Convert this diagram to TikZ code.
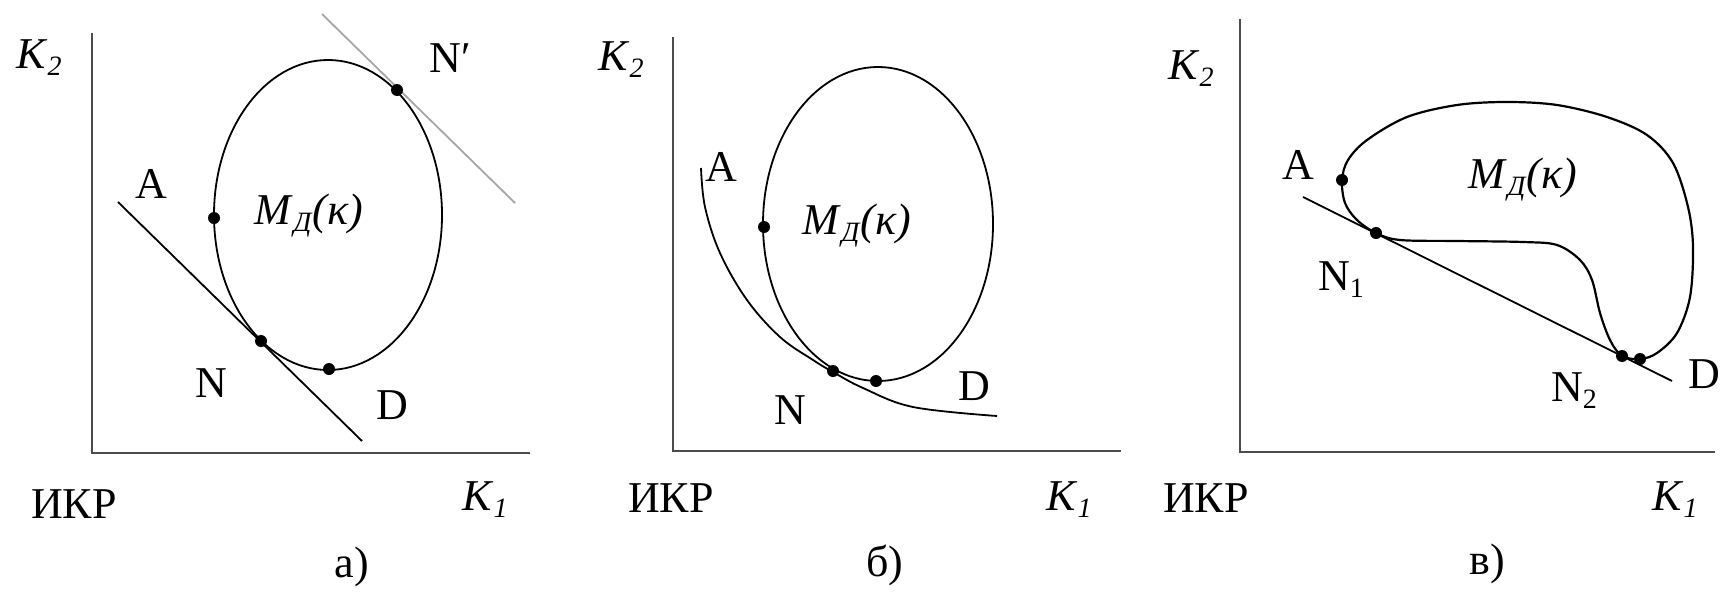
\documentclass[tikz,border=0pt]{standalone}
\usepackage{fontspec}
\setmainfont{Liberation Serif}
\newcommand\lowsub[1]{\raisebox{-0.35ex}{\fontsize{14}{14}\selectfont #1}}
\newcommand\Kk[1]{\textit{K}\lowsub{\textit{#1}}}
\newcommand\MD{\textit{M}\lowsub{\textit{Д}}\textit{(κ)}}
\begin{document}
\begin{tikzpicture}[x=0.5pt,y=-0.5pt,
  lbl/.style={font=\fontsize{22}{24}\selectfont, inner sep=0pt},
  axis/.style={line width=1.4pt, draw=black!70},
  crv/.style={line width=0.9pt},
  tline/.style={line width=0.9pt},
  gline/.style={line width=0.9pt, draw=black!35},
  dot/.style={circle, fill, inner sep=0pt, minimum size=6pt},
]
\path[use as bounding box] (0,0) rectangle (1727,594);

% ---------- panel a ----------
\coordinate (ay) at (92,33);
\coordinate (ao) at (92,453);
\coordinate (ax) at (530,453);
\draw[axis] (ay) -- (ao) -- (ax);
\draw[crv] (328,215) ellipse [x radius=57pt, y radius=77.5pt];
\coordinate (aT1) at (118,202);
\coordinate (aT2) at (362,441);
\draw[tline] (aT1) -- (aT2);
\coordinate (aG1) at (322,14);
\coordinate (aG2) at (515,203);
\draw[gline] (aG1) -- (aG2);
\node[dot] (aA) at (214,218) {};
\node[dot] (aN) at (261,341) {};
\node[dot] (aD) at (329,369) {};
\node[dot] (aNp) at (397,90) {};
\node[lbl] (aK2) at (39,58) {\Kk{2}};
\node[lbl] (aIKR) at (74,504) {ИКР};
\node[lbl] (aK1) at (485,500) {\Kk{1}};
\node[lbl] (acap) at (352,567) {а)};
\node[lbl] (aAl) at (151,184) {A};
\node[lbl] (aNpl) at (450,58) {N′};
\node[lbl] (aNl) at (211,383) {N};
\node[lbl] (aDl) at (392,405) {D};
\node[lbl] (aM) at (309,216) {\MD};

% ---------- panel b ----------
\coordinate (by) at (673,37);
\coordinate (bo) at (673,451);
\coordinate (bx) at (1121,451);
\draw[axis] (by) -- (bo) -- (bx);
\draw[crv] (878,224) ellipse [x radius=57.5pt, y radius=78.5pt];
\draw[crv] plot[smooth, tension=0.6] coordinates {(701,168) (705,207) (720,253) (747,300) (780,337) (813,360) (833,372) (863,388) (913,407) (997,416)};
\node[dot] (bA) at (764,227) {};
\node[dot] (bN) at (833,371) {};
\node[dot] (bD) at (876,381) {};
\node[lbl] (bK2) at (621,60) {\Kk{2}};
\node[lbl] (bIKR) at (671,498) {ИКР};
\node[lbl] (bK1) at (1069,500) {\Kk{1}};
\node[lbl] (bcap) at (885,565) {б)};
\node[lbl] (bAl) at (721,167) {A};
\node[lbl] (bM) at (857,226) {\MD};
\node[lbl] (bDl) at (974,386) {D};
\node[lbl] (bNl) at (790,410) {N};

% ---------- panel v ----------
\coordinate (vy) at (1240,19);
\coordinate (vo) at (1240,452);
\coordinate (vx) at (1715,452);
\draw[axis] (vy) -- (vo) -- (vx);
\draw[crv, line width=1.1pt] plot[smooth cycle, tension=0.55] coordinates {
  (1342,180) (1348,160) (1367,140) (1407,117) (1457,105) (1507,102) (1557,105)
  (1607,117) (1647,135) (1673,163) (1688,207) (1693,247) (1690,297) (1677,333)
  (1657,353) (1640,359) (1622,356) (1610,340) (1600,313) (1592,280) (1580,260)
  (1557,245) (1523,242) (1457,241) (1400,240) (1376,233) (1357,220) (1345,203)};
\coordinate (vT1) at (1303,197);
\coordinate (vT2) at (1672,381);
\draw[tline] (vT1) -- (vT2);
\node[dot] (vA) at (1342,180) {};
\node[dot] (vN1) at (1376,233) {};
\node[dot] (vN2) at (1622,356) {};
\node[dot] (vD) at (1640,359) {};
\node[lbl] (vK2) at (1191,69) {\Kk{2}};
\node[lbl] (vIKR) at (1206,498) {ИКР};
\node[lbl] (vK1) at (1675,500) {\Kk{1}};
\node[lbl] (vcap) at (1487,564) {в)};
\node[lbl] (vAl) at (1298,165) {A};
\node[lbl] (vM) at (1523,180) {\MD};
\node[lbl] (vN1l) at (1341,280) {N\lowsub{1}};
\node[lbl] (vN2l) at (1574,391) {N\lowsub{2}};
\node[lbl] (vDl) at (1704,374) {D};
\end{tikzpicture}
\end{document}
